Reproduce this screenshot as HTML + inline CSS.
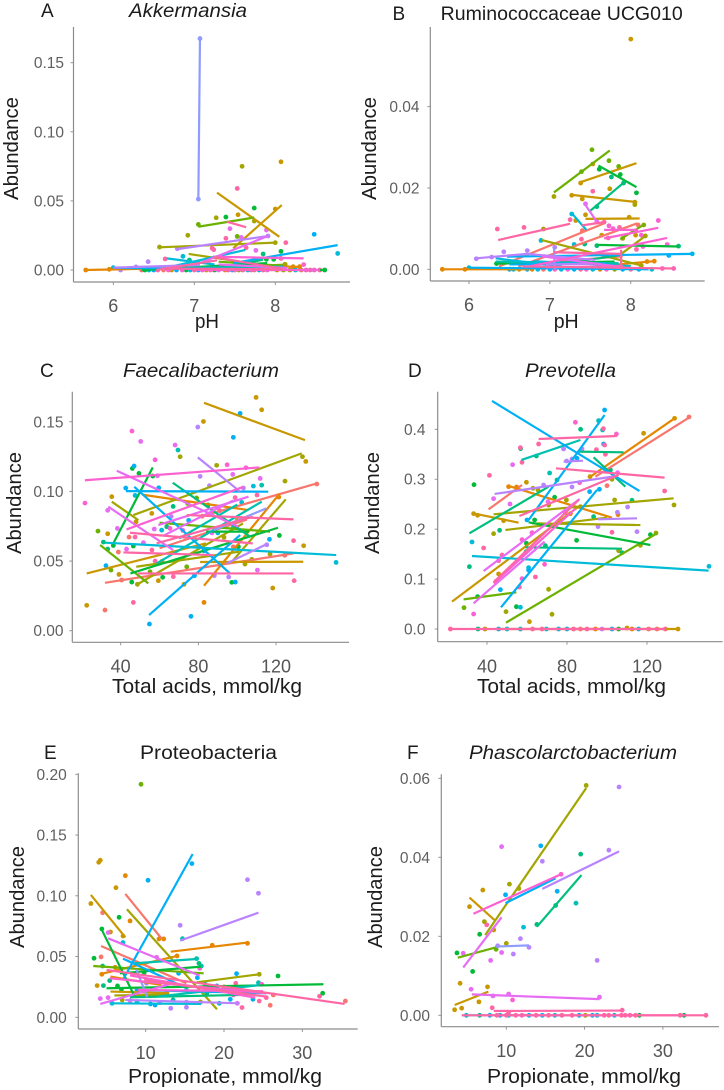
<!DOCTYPE html>
<html lang="en">
<head>
<meta charset="utf-8">
<title>Abundance scatter panels</title>
<style>
html,body{margin:0;padding:0;background:#fff;}
#figure{display:block;width:724px;height:1090px;font-family:"Liberation Sans",sans-serif;filter:blur(0.3px);}
.tick-y{font-size:15.5px;fill:#5f5f5f;text-anchor:end;}
.tick-x{font-size:18px;fill:#555;text-anchor:middle;}
.ttl{font-size:19px;fill:#1c1c1c;}
.axt{font-size:20px;fill:#1c1c1c;}
</style>
</head>
<body>
<svg id="figure" xmlns="http://www.w3.org/2000/svg" width="724" height="1090" viewBox="0 0 724 1090"></svg>
<script>
// group colours
const groupColors = ['#F8766D','#E58700','#C99800','#A3A500','#6BB100','#00BA38','#00BF7D','#00C0AF','#00BCD8','#00B0F6','#8F9BFF','#B983FF','#E76BF3','#FD61D1','#FF67A4'];

// Panel A: [group, x1, y1, x2, y2] and [group, x, y]
const panelALines = [[10,7.05,.0513,7.07,.1675],[2,7.28,.056,8.05,.024],[2,7.48,.0157,8.08,.047],[4,7.05,.0313,7.74,.038],[3,6.57,.0164,8,.0198],[11,6.78,.015,7.91,.0246],[12,7.07,.005,7.91,.0246],[14,7.4,.035,7.64,.031],[9,7.48,.005,8.77,.018],[8,6.53,0,7.63,.0145],[8,6.66,.0084,7.25,.004],[3,6.93,.0116,7.85,.0036],[13,7.23,.0096,8.35,.0084],[14,6.53,0,7.28,.007],[14,7.23,.0095,8.07,.001],[11,6,.0017,7.07,.0036],[1,5.66,0,6.5,.001],[5,6.35,0,7.9,.005],[7,6.7,.0015,8.1,.0025],[1,7.6,.0035,8.3,.0022],[13,7,0,8.55,0],[14,6.6,.001,8.1,.0005],[5,7.4,0,8.6,0],[9,6,.0015,7.4,.0008],[6,7.3,.001,7.85,.0075],[4,7.3,.006,8.1,.003],[12,7.3,.004,8.15,.0015],[3,7.5,.002,8.15,.004]];
const panelAPoints = [[10,7.07,.1675],[10,7.05,.0513],[2,8.07,.0783],[3,7.59,.075],[14,7.53,.059],[2,7.54,.04],[2,8,.0441],[5,7.74,.0448],[5,7.39,.0383],[3,7.27,.0378],[4,7.05,.033],[3,7.74,.0354],[3,6.92,.0251],[12,7.44,.0299],[4,7.53,.0243],[12,7.58,.0236],[14,7.39,.0229],[12,7.89,.0289],[14,8.13,.0198],[9,8.48,.0258],[8,8.77,.012],[14,7.22,.0157],[14,7.24,.0147],[14,7.64,.0161],[12,7.76,.0142],[3,6.57,.0166],[3,8,.0198],[11,6.79,.0154],[11,7.91,.0246],[5,8.07,.0135],[6,7.85,.0116],[8,6.86,.0099],[6,6.94,.0072],[11,6.43,.006],[14,6.64,.008],[8,6,.0017],[11,6.28,.0022],[11,6.09,0],[1,5.95,.0005],[1,5.66,0],[13,8.35,.0039],[14,8.07,.0084],[5,7.89,.0077],[5,7.98,.0077],[3,8.12,.0041],[2,8.22,.0024],[1,8.3,.0024],[0,6.35,0],[5,6.39,0],[8,6.44,0],[9,6.5,0],[14,6.55,0],[0,6.62,0],[13,6.68,0],[2,6.72,0],[9,6.78,0],[13,6.85,0],[5,6.9,0],[8,6.95,0],[14,7,0],[9,7.05,0],[13,7.1,0],[2,7.15,0],[14,7.2,0],[5,7.25,0],[12,7.3,0],[1,7.38,0],[14,7.42,0],[9,7.47,0],[13,7.5,0],[3,7.55,0],[14,7.6,0],[8,7.66,0],[13,7.7,0],[0,7.74,0],[9,7.8,0],[14,7.85,0],[13,7.9,0],[1,8.02,0],[3,8.1,0],[2,8.18,0],[8,8.25,0],[0,8.32,0],[13,8.38,0],[14,8.43,0],[13,8.48,0],[14,8.55,0],[5,8.61,0]];
const panelAXTicks = [6,7,8];
const panelAXLabels = ['6','7','8'];
const panelAYTicks = [0,.05,.1,.15];
const panelAYLabels = ['0.00','0.05','0.10','0.15'];

// Panel B
const panelBLines = [[4,7.05,.0189,7.74,.0292],[2,7.36,.0213,8.07,.0261],[5,7.6,.0255,8.07,.0202],[6,7.5,.0144,7.93,.0216],[2,7.27,.0183,8.08,.0165],[12,7.43,.0161,7.58,.0117],[8,7.27,.0138,7.45,.0097],[2,7.44,.0124,8.11,.0125],[14,6.36,.0072,7.25,.0112],[0,6.37,.0007,7.67,.0113],[0,6.61,.0007,8.08,.0113],[14,7.4,.0108,7.67,.0116],[13,7.67,.0097,8.09,.0097],[13,7.67,.0076,8.34,.0102],[4,7.87,.0074,8.18,.0112],[3,7.89,.0039,8.18,.0082],[3,6.9,.0072,8.14,.0009],[5,7.58,.006,8.59,.0056],[13,6.74,.0007,8.45,.0077],[9,6.47,.0031,8.76,.0038],[11,6.09,.0027,6.72,.0038],[11,6.72,.0038,7.56,.0023],[1,5.67,0,6.74,0],[1,7.56,.0007,8.29,.002],[9,6,.0004,8.22,0],[7,6.33,.0019,7.85,.0015],[8,6.33,.0027,7.15,.0007],[5,6.34,.0014,7.8,.0019],[14,7.88,.0048,7.88,0],[14,6.66,.0007,8.55,.0002],[10,7.05,.0054,7.06,0],[14,7.05,.0042,7.88,.0038],[12,6.9,.0032,7.9,.0005],[0,6.8,.0015,7.9,.0032],[8,6.8,.002,8,.0008],[13,6.95,.0005,7.9,.0008],[6,7.1,.0012,7.9,.0036],[11,6.95,.0012,7.6,.0014],[9,6.5,.0012,7.7,.0014]];
const panelBPoints = [[2,8,.0566],[4,7.52,.0294],[4,7.73,.0267],[2,7.53,.0259],[4,7.85,.0253],[5,7.61,.0246],[4,7.39,.024],[5,7.87,.0233],[6,7.76,.0227],[2,7.38,.0212],[6,7.91,.0212],[2,7.74,.0198],[14,7.53,.0192],[5,8.07,.0188],[3,7.05,.0179],[2,7.27,.0182],[2,7.4,.0173],[3,8.05,.0165],[3,8.05,.0159],[12,7.44,.0161],[6,7.58,.0154],[2,7.44,.0134],[8,7.27,.0136],[14,7.25,.0122],[2,7.32,.012],[14,7.67,.0116],[12,7.58,.0117],[2,7.98,.0128],[13,8.34,.012],[14,6.35,.0099],[14,6.68,.0103],[3,6.92,.0099],[0,7.4,.0095],[13,7.73,.0107],[13,7.78,.01],[14,7.86,.0103],[0,8.09,.0109],[3,8.16,.0109],[3,8.18,.0082],[2,8.06,.0084],[13,8.13,.0084],[2,7.64,.0084],[14,7.72,.0077],[14,7.39,.0074],[6,7.43,.0062],[8,6.89,.0071],[13,8.45,.0061],[6,8.59,.0057],[13,8.15,.0056],[14,8.07,.0049],[3,7.9,.0076],[6,7.58,.0058],[8,7.3,.0061],[11,7.06,.0054],[11,6.43,.0043],[11,6.72,.0046],[11,6.09,.0026],[11,6.28,.003],[5,6.34,.0014],[8,6,.0004],[1,8.29,.002],[1,8.2,.0019],[3,8.13,.0009],[8,8.76,.0038],[9,8.47,.0034],[13,8.53,.0002],[13,8.39,.0002],[1,5.67,0],[1,5.95,0],[9,6.5,0],[8,6.55,0],[2,6.62,0],[9,6.72,0],[1,6.78,0],[8,6.85,0],[0,6.92,0],[9,7,0],[13,7.06,0],[8,7.14,0],[13,7.22,0],[9,7.3,0],[14,7.38,0],[13,7.45,0],[8,7.53,0],[1,7.62,0],[13,7.7,0],[3,7.8,0],[9,7.9,0],[14,8,0],[9,8.1,0],[8,8.26,0]];
const panelBXTicks = [6,7,8];
const panelBXLabels = ['6','7','8'];
const panelBYTicks = [0,.02,.04];
const panelBYLabels = ['0.00','0.02','0.04'];

// Panel C
const panelCLines = [[2,82.9,.1636,134.9,.1368],[3,46.5,.083,133.2,.1273],[13,21.6,.108,111.4,.1172],[9,42.7,.1002,116,.0998],[9,47,.1033,96.3,.0411],[12,38,.1148,100.6,.0746],[5,36.2,.0627,56.5,.1172],[6,66.8,.1062,106.6,.0675],[11,79.7,.1244,101.5,.0998],[1,51.2,.0976,105.8,.0866],[3,35.4,.0926,49.1,.0794],[12,33.6,.089,67,.0579],[12,59.4,.0758,105.8,.0962],[13,43,.0727,103.2,.1033],[1,82.9,.0323,121.7,.0981],[3,98,.0507,125,.0943],[0,31.9,.0344,129,.0555],[0,80.9,.0818,141,.1057],[14,74,.083,129,.0799],[14,41.4,.0562,87.7,.0543],[14,49,.0411,129,.0411],[2,22.5,.0411,84,.0627],[2,80.9,.0493,134,.0495],[8,32,.0632,151,.0543],[9,54.6,.0112,101.5,.0687],[4,29.4,.0615,54.2,.034],[5,45,.0411,121,.0739],[3,48,.0328,103,.077],[3,48,.0459,101,.0567],[7,58.5,.0483,112.6,.0926],[11,94.6,.0483,116,.0627],[14,44.8,.0703,108,.0627],[14,58.5,.0627,108,.0818],[4,60,.0775,116.9,.0711],[5,84,.0711,106,.0711],[12,62,.0682,98,.0935],[7,70,.0662,100,.0905],[10,88,.0722,115,.0878],[0,60,.0592,105,.0798]];
const panelCPoints = [[2,109.7,.1675],[2,112.6,.1586],[2,82.6,.1502],[2,135.3,.1215],[3,133.6,.1249],[2,134.2,.061],[2,22.5,.0182],[1,82.9,.0203],[2,118.3,.0306],[1,121.2,.0962],[3,70.6,.1249],[2,35.4,.0962],[2,33.3,.0696],[2,39.1,.0404],[2,56,.0842],[2,47.9,.0782],[2,59.4,.0359],[2,72.6,.0333],[9,101.5,.156],[9,98,.1388],[9,42.6,.1024],[9,46.9,.1182],[9,59.6,.1026],[8,108.3,.1038],[8,102.3,.0921],[9,116.6,.0656],[9,32.4,.0467],[9,54.8,.0048],[9,76.2,.0103],[9,99,.0349],[8,150.9,.049],[9,78,.0395],[9,82.9,.0574],[8,61.1,.0722],[8,47.4,.0971],[13,21.6,.0916],[13,45.8,.1433],[12,50.3,.1359],[12,68,.1333],[11,79.7,.1462],[13,57.7,.1227],[13,94.8,.1191],[13,104.5,.117],[12,97.7,.1122],[12,111.8,.1093],[11,80.9,.1108],[11,85.7,.1041],[11,103.2,.1024],[12,58.9,.1112],[12,33.3,.0864],[14,110.2,.0974],[14,98.9,.0955],[0,141,.1053],[1,121.4,.0959],[0,124.5,.0541],[14,129,.0646],[14,129.3,.0359],[12,110.4,.0435],[11,115.2,.0617],[14,46.5,.0203],[0,31.9,.0148],[0,38.8,.0565],[0,40.5,.0364],[12,38.3,.0734],[12,43,.0586],[0,44.3,.0672],[14,47.4,.0672],[12,51.7,.0632],[14,56.1,.0579],[14,57.7,.05],[2,61.3,.0498],[14,67.1,.0388],[11,88.2,.0395],[11,95.6,.0385],[12,57.3,.073],[13,65.4,.0734],[3,124.6,.1074],[7,112.6,.1045],[7,69.5,.1297],[3,89.4,.1187],[5,46,.1165],[5,49.4,.1129],[5,56.5,.111],[4,28.3,.0715],[6,31.1,.0636],[6,33.3,.0586],[5,36.2,.0612],[4,35,.0435],[5,45.7,.0349],[3,48.6,.0333],[5,61.6,.0383],[5,121.7,.0684],[3,116.9,.055],[3,107.5,.0512],[3,104,.0478],[5,97.2,.0347],[5,46.5,.0608],[4,55.1,.0423],[4,74,.0459],[3,93.2,.067],[4,79.1,.0952],[4,74.5,.0914],[6,63.7,.0746],[5,100.6,.0603],[14,91,.0862],[7,98,.0742],[12,87,.0702],[13,72,.072],[0,82,.0822],[6,67,.0892],[11,66,.082],[9,75,.0792],[5,85,.0902],[8,90,.0702],[0,98,.0602],[2,100,.0792]];
const panelCXTicks = [40,80,120];
const panelCXLabels = ['40','80','120'];
const panelCYTicks = [0,.05,.1,.15];
const panelCYLabels = ['0.00','0.05','0.10','0.15'];

// Panel D
const panelDLines = [[9,42.5,.4568,116.2,.2765],[9,47,.0434,95,.2785],[9,60.8,.2184,98.8,.4287],[7,57.2,.3386,86.7,.3786],[14,65.8,.3806,105,.3866],[6,85.8,.3553,108.3,.3539],[1,91.7,.3052,133.8,.422],[0,40.8,.2397,57.5,.2885],[14,56.2,.2264,105.8,.3085],[14,74.5,.3219,128.8,.3032],[0,94.2,.3052,141.7,.4254],[11,43.8,.2705,105,.3065],[6,93.3,.3439,109.2,.2851],[6,31.2,.1917,70.8,.2851],[1,50.8,.2865,102.5,.223],[2,33,.2317,55.8,.213],[3,43.3,.2297,133.3,.2618],[3,49.2,.1983,100,.223],[3,62.5,.2117,116.7,.2083],[5,60.8,.2137,121.7,.1683],[11,95.5,.2197,115,.2217],[11,78.3,.3352,88,.3372],[6,59.2,.1636,107.5,.1609],[8,32.5,.1462,150.8,.1169],[2,22.5,.0548,85.8,.2451],[4,49.5,.0127,125,.1917],[4,28.3,.0594,54.7,.0735],[12,33.3,.0514,68.8,.175],[12,38.3,.1162,86.3,.2604],[14,43.3,.0935,85.8,.2584],[13,43.3,.0915,84,.2404],[2,44,0,135.5,0],[14,21,0,129,0]];
const panelDPoints = [[9,98.8,.4387],[7,95.8,.4174],[13,84.2,.414],[6,86.8,.4],[7,97.8,.3987],[14,98.2,.4013],[13,104.7,.3906],[2,133.8,.422],[0,141,.4247],[2,118.3,.392],[9,98.3,.3706],[14,98.8,.3686],[14,65.8,.3706],[14,56.7,.3633],[6,56.8,.3613],[6,64.7,.3466],[14,57.5,.3339],[12,52.8,.3292],[11,78.3,.3606],[11,87.5,.3606],[14,94.7,.3593],[14,99.2,.3499],[6,101.7,.3185],[3,102.5,.2998],[0,100,.2871],[2,91.5,.3052],[12,105.3,.3132],[11,82.5,.3406],[9,85,.3419],[11,79.8,.3366],[13,86.3,.2932],[11,82.5,.2845],[9,91.3,.2751],[9,96.2,.2798],[6,75,.2985],[7,71.3,.3125],[2,59.7,.2938],[14,41.2,.3078],[5,33.5,.2891],[12,43.3,.2611],[12,51.5,.2504],[1,50.8,.2851],[1,54.8,.2845],[3,63,.2818],[3,65.5,.2785],[11,68.3,.2885],[12,70.5,.2551],[3,70.8,.2484],[5,73.8,.2638],[3,79.7,.2584],[3,103.8,.2584],[6,112.5,.2578],[11,110.3,.2444],[3,133.5,.2484],[14,128.8,.2765],[11,105.2,.2337],[1,105.5,.229],[6,93.3,.225],[11,95.5,.205],[14,102.5,.1937],[11,115,.195],[2,33.3,.2311],[2,35.3,.2277],[2,48.3,.217],[3,43.3,.191],[6,46.3,.1977],[8,32.5,.1743],[14,38.3,.1623],[6,31.2,.1249],[14,47.5,.1482],[14,45.8,.1369],[2,45.8,.1102],[14,44.5,.0955],[9,46.7,.0788],[5,35.3,.0648],[4,28.5,.0427],[13,33.3,.03],[3,49.5,.0347],[5,54.7,.0447],[8,56.7,.0434],[2,61.2,.0147],[3,72.5,.0294],[3,70.8,.0795],[14,64.2,.1042],[13,68.8,.1296],[14,56.2,.0841],[13,57.5,.1008],[8,60.8,.1229],[9,60.8,.1182],[6,59.5,.1549],[5,59.7,.1716],[13,57.5,.179],[13,62.5,.193],[5,63.8,.2184],[9,60,.2184],[6,69.2,.1669],[5,84.8,.1776],[13,79.2,.233],[1,81.7,.231],[2,86.7,.245],[3,105.8,.1569],[6,107.5,.1529],[3,116.7,.1676],[5,121.7,.189],[3,124.5,.1923],[8,151,.1255],[14,21.7,0],[6,35.5,0],[2,39,0],[9,45.8,0],[8,50,0],[8,56.7,0],[14,62.8,0],[14,67.5,0],[8,69.7,0],[9,75.8,0],[9,80,0],[14,83.3,0],[0,86.7,0],[14,90,0],[1,94.2,0],[11,97.5,0],[9,102.5,0],[5,105.8,0],[2,110,.002],[1,112.5,0],[9,115.8,0],[0,120.8,0],[0,125,0],[14,129.2,0],[2,135.5,0]];
const panelDXTicks = [40,80,120];
const panelDXLabels = ['40','80','120'];
const panelDYTicks = [0,.1,.2,.3,.4];
const panelDYLabels = ['0.0','0.1','0.2','0.3','0.4'];

// Panel E
const panelELines = [[9,7.2,.0321,16,.1344],[11,14.4,.0631,24.4,.0861],[1,13.2,.054,23,.0615],[0,7.4,.1015,12,.065],[3,7.6,.0889,19.1,.0066],[2,3,.1007,7.4,.0658],[5,4.4,.0719,8.6,.017],[12,5.2,.065,16.9,.0343],[0,4.3,.0587,15.2,.028],[4,3.3,.0422,17.4,.0362],[9,7.1,.0483,14.8,.0252],[7,8.4,.0444,16.5,.048],[1,4.1,.0354,14,.0505],[5,6.7,.0362,17.1,.0417],[3,16.5,.0288,24.5,.0354],[5,5,.0239,32.7,.0272],[14,5,.039,35.4,.011],[13,5.4,.0321,25.4,.0198],[12,4.2,.011,13.5,.028],[8,5.4,.0115,17.1,.011],[11,7.4,.0143,22,.0115],[2,5.5,.0212,13,.0198],[7,11.5,.0170,24.5,.0265],[9,8.6,.0225,25.4,.0198],[14,9.8,.0307,25.4,.017],[10,8.8,.0395,10.2,.0165],[13,8,.0345,24,.0162],[6,8,.0165,23,.0185],[3,6,.018,13,.0185],[13,9,.0225,25,.0215],[1,5.5,.0335,12,.0265]];
const panelEPoints = [[4,9.4,.1918],[2,4,.1276],[2,4.2,.1292],[1,7.4,.1166],[9,10.3,.1128],[9,15.9,.1265],[11,23,.1133],[11,24.4,.1021],[2,6.2,.1067],[2,3,.0936],[0,4.5,.0861],[5,6.6,.0823],[1,8,.0793],[2,5.5,.0702],[5,4.4,.0727],[12,5.2,.0697],[11,14.4,.0757],[7,14.7,.0647],[8,7.1,.0615],[2,7.1,.0669],[1,11.7,.0645],[1,12.3,.0645],[1,23,.0609],[1,18.5,.0593],[1,14,.0505],[12,11.4,.0494],[0,4.3,.0497],[5,3.4,.0486],[7,16.5,.0483],[6,16.8,.0444],[7,17.1,.0422],[13,16.9,.0403],[9,16.6,.0326],[9,21.6,.0359],[3,24.5,.0354],[5,26.9,.034],[14,21.5,.028],[7,24.4,.0285],[13,24.8,.0272],[7,17.6,.0272],[9,19.1,.0258],[3,20,.025],[5,32.6,.0198],[14,32.2,.0173],[0,35.5,.0134],[0,26.3,.0184],[14,25.4,.0162],[0,25.9,.0099],[14,24.5,.0134],[14,22.3,.008],[12,21.7,.0115],[9,23.7,.0148],[9,20.8,.0148],[3,17,.0126],[7,19.4,.0115],[11,15.2,.0082],[11,13.2,.0074],[11,15.2,.0125],[9,11.2,.0101],[9,10.6,.011],[8,5.7,.0115],[12,4.2,.0154],[12,5.2,.0162],[3,7,.0143],[2,3.8,.0261],[6,4.6,.0261],[5,6.4,.0258],[6,5.4,.0302],[1,4.4,.0354],[6,4.5,.0422],[1,6.1,.0412],[5,9.8,.0368],[5,6.9,.023],[13,8.9,.0225],[11,10.1,.028],[9,14.2,.0362],[12,8,.0137],[8,8.9,.0129],[11,11.8,.0121],[7,13.5,.0143],[14,12.7,.0198],[7,15.2,.0225],[6,17.8,.0198],[13,21.2,.0184]];
const panelEXTicks = [10,20,30];
const panelEXLabels = ['10','20','30'];
const panelEYTicks = [0,.05,.1,.15,.2];
const panelEYLabels = ['0.00','0.05','0.10','0.15','0.20'];

// Panel F
const panelFLines = [[3,7.3,.0203,20.2,.0575],[11,14.6,.032,24.4,.0415],[13,5.8,.0257,17.1,.0358],[9,9.9,.0284,16.3,.0347],[6,13.9,.0224,19.6,.0355],[2,5.3,.0298,8.5,.0241],[12,4.5,.0121,9.4,.0248],[4,3.8,.0146,8.7,.0172],[10,8.7,.0174,12.9,.0177],[12,5.6,.0053,21.9,.0041],[2,3.4,.0026,7.7,.006],[14,8.4,.0011,24.8,.0012],[8,4.4,0,17,0],[13,7,0,33,0],[14,4.3,0,35.4,0]];
const panelFPoints = [[3,20.2,.0582],[11,24.4,.0578],[12,9.4,.0427],[9,14.4,.0429],[11,14.6,.039],[11,23.1,.0418],[6,19.5,.0408],[13,17,.0357],[9,16.5,.0314],[3,10.4,.0332],[2,7,.0317],[9,9.9,.0305],[3,11.6,.0321],[2,5.3,.0275],[6,16.3,.0278],[7,18.9,.0284],[6,13.9,.023],[8,12.2,.0223],[11,11.8,.0194],[3,10,.0182],[3,7.2,.0237],[14,7.5,.0229],[2,8.4,.0216],[5,6.6,.0205],[5,3.7,.0158],[12,4.5,.0157],[5,5.7,.0111],[12,8,.0139],[12,9.4,.0159],[11,10.9,.0155],[11,12.9,.0172],[11,8.9,.0176],[4,8.7,.0167],[11,21.6,.0139],[2,4.1,.0081],[12,5.5,.0066],[2,7.6,.0072],[2,6.5,.0034],[12,8.3,.0049],[12,10.3,.0054],[13,10.8,.0039],[12,21.9,.0046],[2,3.4,.0014],[2,4.3,.0018],[14,8.2,.0019],[14,24.8,.0013],[14,10.3,.0007],[8,4.9,0],[6,6.6,0],[9,7.9,0],[14,8.8,0],[9,9.2,0],[14,10,0],[8,10.3,0],[14,11.2,0],[13,12,0],[9,12.9,0],[14,13.8,0],[9,14.6,0],[14,15.4,0],[8,16.2,0],[14,17.1,0],[14,18.4,0],[9,19.3,0],[3,20.1,0],[9,21,0],[9,21.6,0],[14,22.5,0],[14,23.1,0],[9,23.8,0],[14,24.7,0],[14,25.2,0],[14,25.8,0],[14,26.5,0],[5,27,0],[14,32.2,0],[5,32.7,0],[14,35.5,0]];
const panelFXTicks = [10,20,30];
const panelFXLabels = ['10','20','30'];
const panelFYTicks = [0,.02,.04,.06];
const panelFYLabels = ['0.00','0.02','0.04','0.06'];

// Panel layout: axis calibration only
const panels = [
 {key:'a',tag:'A',tagX:41,tagY:17,title:'Akkermansia',italic:true,titleX:129,titleW:118,titleY:17,xText:'pH',xtX:195,xtW:24,xtY:328,ytX:18,ytA:97,ytB:200,
  axX:73.5,axTop:27,axBot:282,axEnd:350,x0:6,x0px:113.3,xPer:81,yPer:1382,y0px:270,tickXY:312,tickYEnd:64,
  lines:panelALines,points:panelAPoints,xt:panelAXTicks,xl:panelAXLabels,yt:panelAYTicks,yl:panelAYLabels},
 {key:'b',tag:'B',tagX:392.5,tagY:20,title:'Ruminococcaceae UCG010',italic:false,titleX:440.7,titleW:242,titleY:20,xText:'pH',xtX:553.7,xtW:25,xtY:328,ytX:376,ytA:97,ytB:200,
  axX:430.3,axTop:27,axBot:281,axEnd:704.7,x0:6,x0px:469,xPer:80.9,yPer:4067,y0px:269.3,tickXY:311,tickYEnd:419.5,
  lines:panelBLines,points:panelBPoints,xt:panelBXTicks,xl:panelBXLabels,yt:panelBYTicks,yl:panelBYLabels},
 {key:'c',tag:'C',tagX:40,tagY:377,title:'Faecalibacterium',italic:true,titleX:123,titleW:156,titleY:377,xText:'Total acids, mmol/kg',xtX:112,xtW:190,xtY:693,ytX:21,ytA:452,ytB:554,
  axX:72.3,axTop:391.7,axBot:642.3,axEnd:349,x0:40,x0px:120.7,xPer:1.942,yPer:1393,y0px:630.7,tickXY:672.7,tickYEnd:63.5,
  lines:panelCLines,points:panelCPoints,xt:panelCXTicks,xl:panelCXLabels,yt:panelCYTicks,yl:panelCYLabels},
 {key:'d',tag:'D',tagX:408,tagY:377,title:'Prevotella',italic:true,titleX:525,titleW:91,titleY:377,xText:'Total acids, mmol/kg',xtX:477,xtW:189,xtY:693,ytX:379,ytA:452,ytB:554,
  axX:437.7,axTop:391.7,axBot:641.7,axEnd:722.7,x0:40,x0px:487,xPer:2,yPer:499.2,y0px:629,tickXY:672.7,tickYEnd:425.5,
  lines:panelDLines,points:panelDPoints,xt:panelDXTicks,xl:panelDXLabels,yt:panelDYTicks,yl:panelDYLabels},
 {key:'e',tag:'E',tagX:44,tagY:759,title:'Proteobacteria',italic:false,titleX:140,titleW:137,titleY:759,xText:'Propionate, mmol/kg',xtX:128,xtW:194,xtY:1083,ytX:24,ytA:846,ytB:948,
  axX:78.3,axTop:773.3,axBot:1029,axEnd:357.7,x0:10,x0px:145.7,xPer:7.83,yPer:1215,y0px:1017.3,tickXY:1059,tickYEnd:66.7,
  lines:panelELines,points:panelEPoints,xt:panelEXTicks,xl:panelEXLabels,yt:panelEYTicks,yl:panelEYLabels},
 {key:'f',tag:'F',tagX:407,tagY:759,title:'Phascolarctobacterium',italic:true,titleX:469,titleW:208,titleY:759,xText:'Propionate, mmol/kg',xtX:487,xtW:194,xtY:1083,ytX:382,ytA:846,ytB:948,
  axX:441.3,axTop:774.3,axBot:1026.7,axEnd:719,x0:10,x0px:506.3,xPer:7.83,yPer:3950,y0px:1015.3,tickXY:1057,tickYEnd:430,
  lines:panelFLines,points:panelFPoints,xt:panelFXTicks,xl:panelFXLabels,yt:panelFYTicks,yl:panelFYLabels}
];

const NS = 'http://www.w3.org/2000/svg';
const fig = document.getElementById('figure');

function mk(parent, tag, attrs, text) {
  const el = document.createElementNS(NS, tag);
  for (const k in attrs) el.setAttribute(k, attrs[k]);
  if (text !== undefined) el.textContent = text;
  parent.appendChild(el);
  return el;
}

panels.forEach(function (p) {
  const xScale = function (v) { return p.x0px + (v - p.x0) * p.xPer; };
  const yScale = function (v) { return p.y0px - v * p.yPer; };

  const g = mk(fig, 'g', {});
  
  

  // axes
  const yAxis = mk(g, 'line', {x1:p.axX,y1:p.axTop,x2:p.axX,y2:p.axBot,stroke:'#8c8c8c','stroke-width':1.2});
  
  
  const xAxis = mk(g, 'line', {x1:p.axX,y1:p.axBot,x2:p.axEnd,y2:p.axBot,stroke:'#8c8c8c','stroke-width':1.2});
  
  

  // ticks and labels
  p.xt.forEach(function (v, i) {
    const px = xScale(v);
    const t = mk(g, 'line', {x1:px,y1:p.axBot,x2:px,y2:p.axBot+3,stroke:'#8c8c8c','stroke-width':0.9});
    
    
    const l = mk(g, 'text', {x:px,y:p.tickXY,'class':'tick-x'}, p.xl[i]);
    
    
  });
  p.yt.forEach(function (v, i) {
    const py = yScale(v);
    const t = mk(g, 'line', {x1:p.axX-3,y1:py,x2:p.axX,y2:py,stroke:'#8c8c8c','stroke-width':0.9});
    
    
    const l = mk(g, 'text', {x:p.tickYEnd,y:py+5.5,'class':'tick-y'}, p.yl[i]);
    
    
  });

  // points then lines, in group order
  p.points.slice().sort(function (a, b) { return a[0] - b[0]; }).forEach(function (d) {
    const c = mk(g, 'circle', {cx:xScale(d[1]),cy:yScale(d[2]),r:2.4,fill:groupColors[d[0]]});
    
    
  });
  p.lines.slice().sort(function (a, b) { return a[0] - b[0]; }).forEach(function (d) {
    const s = mk(g, 'line', {x1:xScale(d[1]),y1:yScale(d[2]),x2:xScale(d[3]),y2:yScale(d[4]),stroke:groupColors[d[0]],'stroke-width':2.2,'stroke-linecap':'butt'});
    
    
  });

  // text
  const tag = mk(g, 'text', {x:p.tagX,y:p.tagY,'class':'ttl'}, p.tag);
  
  
  const title = mk(g, 'text', {x:p.titleX,y:p.titleY,'class':'ttl',textLength:p.titleW,lengthAdjust:'spacingAndGlyphs','font-style':p.italic?'italic':'normal'}, p.title);
  
  
  const xTitle = mk(g, 'text', {x:p.xtX,y:p.xtY,'class':'axt',textLength:p.xtW,lengthAdjust:'spacingAndGlyphs'}, p.xText);
  
  
  const yTitle = mk(g, 'text', {x:0,y:0,'class':'axt',textLength:p.ytB-p.ytA,lengthAdjust:'spacingAndGlyphs',transform:'translate('+p.ytX+','+p.ytB+') rotate(-90)'}, 'Abundance');
  
  
});
</script>
</body>
</html>
